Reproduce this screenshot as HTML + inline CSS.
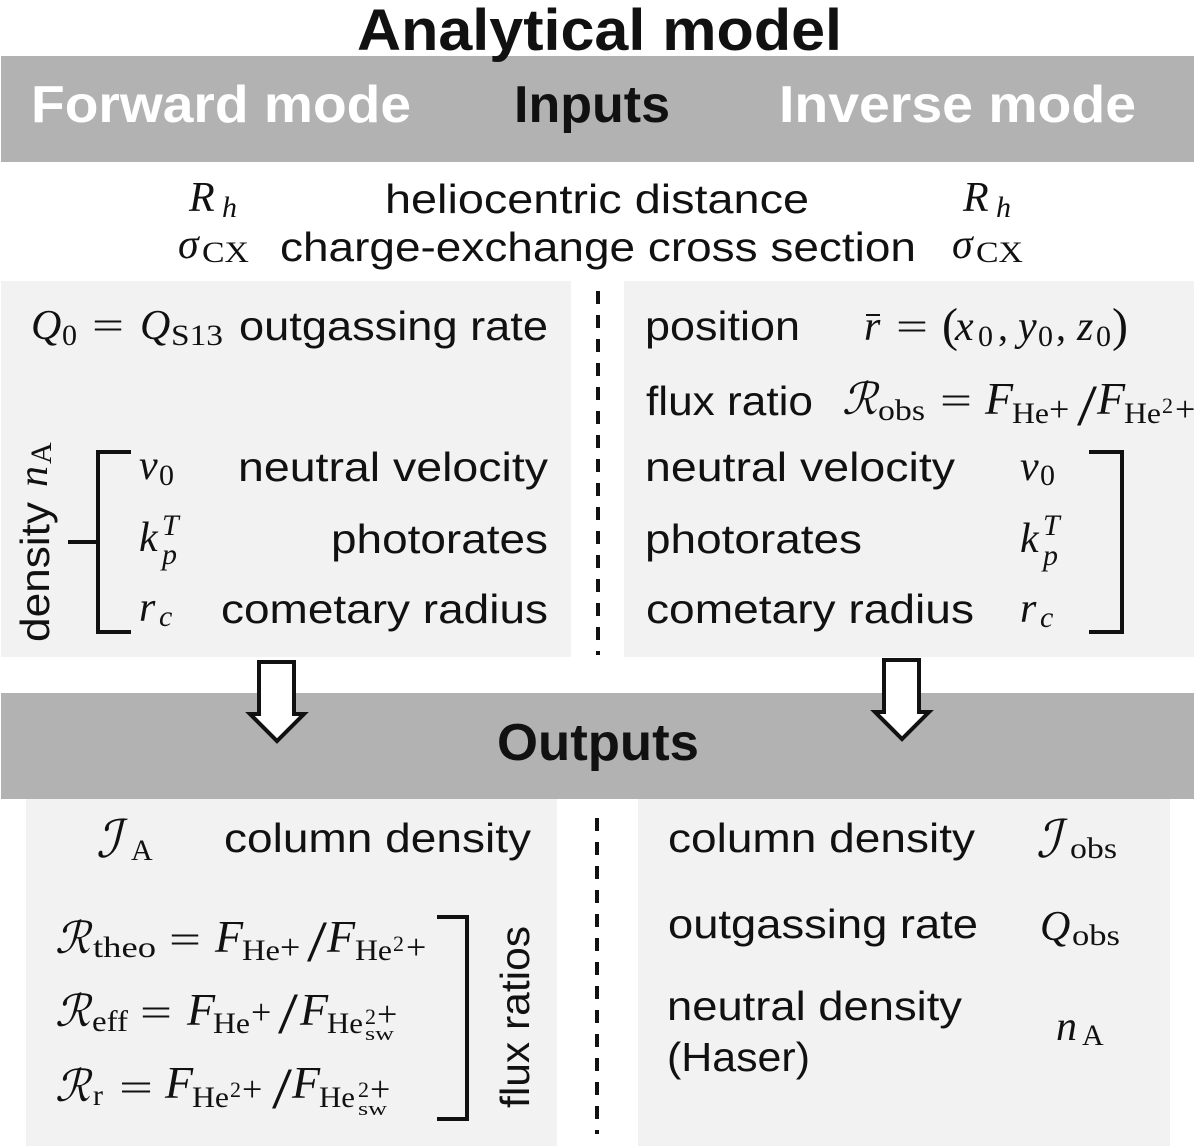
<!DOCTYPE html>
<html><head><meta charset="utf-8"><style>
html,body{margin:0;padding:0;background:#fff}
svg{display:block}
text{font-family:"Liberation Sans",sans-serif;fill:#111;white-space:pre}
.s{font-size:41px}
.m{font-family:"Liberation Serif",serif;font-style:italic;font-size:42px}
.f{font-family:"Liberation Serif",serif;font-style:italic;font-size:46px}
.c{font-family:"Liberation Serif",serif;font-style:italic;font-size:44px}
.i{font-family:"Liberation Serif",serif;font-style:italic;font-size:52px}
.r{font-family:"Liberation Serif",serif;font-size:40px}
.sub{font-family:"Liberation Serif",serif;font-size:30px}
.it{font-style:italic}
.p{font-family:"Liberation Serif",serif;font-size:36px}
.n{font-family:"Liberation Serif",serif;font-size:22px}
.w{font-family:"Liberation Serif",serif;font-size:19px}
.sl{font-family:"Liberation Serif",serif;font-size:58px}
.par{font-family:"Liberation Serif",serif;font-size:48px}
.h{font-size:52px;font-weight:bold}
</style></head><body>
<svg width="1200" height="1148" viewBox="0 0 1200 1148" xmlns="http://www.w3.org/2000/svg">
<rect width="1200" height="1148" fill="#fff"/>
<rect x="1" y="56" width="1193" height="106" fill="#b2b2b2"/>
<rect x="1" y="281" width="570" height="376" fill="#f2f2f2"/>
<rect x="624" y="281" width="570" height="376" fill="#f2f2f2"/>
<rect x="1" y="693" width="1193" height="106" fill="#b2b2b2"/>
<rect x="26" y="799" width="531" height="347" fill="#f2f2f2"/>
<rect x="638" y="799" width="532" height="347" fill="#f2f2f2"/>

<text x="357" y="50" textLength="485" lengthAdjust="spacingAndGlyphs" style="font-size:58px;font-weight:bold">Analytical model</text>
<text class="h" x="31" y="122" textLength="380" lengthAdjust="spacingAndGlyphs" style="fill:#fff">Forward mode</text>
<text class="h" x="514" y="122" textLength="156" lengthAdjust="spacingAndGlyphs">Inputs</text>
<text class="h" x="779" y="122" textLength="357" lengthAdjust="spacingAndGlyphs" style="fill:#fff">Inverse mode</text>
<text class="h" x="497" y="760" textLength="202" lengthAdjust="spacingAndGlyphs">Outputs</text>

<!-- inputs shared -->
<text class="m" x="189" y="211">R</text><text class="sub it" x="222" y="217">h</text>
<text class="s" x="385" y="213" textLength="424" lengthAdjust="spacingAndGlyphs">heliocentric distance</text>
<text class="m" x="963" y="211">R</text><text class="sub it" x="996" y="217">h</text>
<text class="m" x="178" y="258">σ</text><text class="sub" x="202" y="262" textLength="47" lengthAdjust="spacingAndGlyphs">CX</text>
<text class="s" x="280" y="261" textLength="636" lengthAdjust="spacingAndGlyphs">charge-exchange cross section</text>
<text class="m" x="952" y="258">σ</text><text class="sub" x="976" y="262" textLength="47" lengthAdjust="spacingAndGlyphs">CX</text>

<!-- forward inputs -->
<text class="m" x="31" y="339">Q</text><text class="sub" x="62" y="345">0</text>
<text class="r" x="92" y="339" textLength="32" lengthAdjust="spacingAndGlyphs">=</text>
<text class="m" x="140" y="339">Q</text><text class="sub" x="171" y="345" textLength="52" lengthAdjust="spacingAndGlyphs">S13</text>
<text class="s" x="239" y="340" textLength="309" lengthAdjust="spacingAndGlyphs">outgassing rate</text>

<text class="m" x="139" y="479">v</text><text class="sub" x="159" y="485">0</text>
<text class="s" x="238" y="481" textLength="310" lengthAdjust="spacingAndGlyphs">neutral velocity</text>
<text class="m" x="139" y="551">k</text><text class="sub it" x="162" y="535">T</text><text class="sub it" x="162" y="564">p</text>
<text class="s" x="331" y="553" textLength="217" lengthAdjust="spacingAndGlyphs">photorates</text>
<text class="m" x="139" y="621">r</text><text class="sub it" x="159" y="626">c</text>
<text class="s" x="221" y="623" textLength="327" lengthAdjust="spacingAndGlyphs">cometary radius</text>

<text class="s" transform="translate(49,642) rotate(-90)" x="0" y="0" textLength="140" lengthAdjust="spacingAndGlyphs">density</text>
<text class="m" transform="translate(47,487) rotate(-90)" x="0" y="0">n</text>
<text class="sub" transform="translate(51,464) rotate(-90)" x="0" y="0">A</text>

<path d="M131 452H98V632H131" fill="none" stroke="#111" stroke-width="4"/>
<path d="M68 542H98" fill="none" stroke="#111" stroke-width="4"/>

<!-- inverse inputs -->
<text class="s" x="645" y="340" textLength="155" lengthAdjust="spacingAndGlyphs">position</text>
<text class="m" x="864" y="340">r</text><path d="M866 315h14" stroke="#111" stroke-width="2"/>
<text class="r" x="896" y="340" textLength="32" lengthAdjust="spacingAndGlyphs">=</text>
<text class="par" x="942" y="341">(</text><text class="m" x="955" y="340">x</text><text class="sub" x="978" y="346">0</text>
<text class="r" x="998" y="340">,</text>
<text class="m" x="1018" y="340">y</text><text class="sub" x="1038" y="346">0</text><text class="r" x="1056" y="340">,</text>
<text class="m" x="1077" y="340">z</text><text class="sub" x="1096" y="346">0</text><text class="par" x="1112" y="341">)</text>

<text class="s" x="646" y="415" textLength="167" lengthAdjust="spacingAndGlyphs">flux ratio</text>
<text class="c" x="842" y="414">ℛ</text><text class="sub" x="878" y="420" textLength="47" lengthAdjust="spacingAndGlyphs">obs</text>
<text class="r" x="940" y="414" textLength="32" lengthAdjust="spacingAndGlyphs">=</text>
<text class="f" x="985" y="414">F</text><text class="sub" x="1012" y="423" textLength="37" lengthAdjust="spacingAndGlyphs">He</text><text class="p" x="1049" y="421">+</text>
<text class="sl" x="1077" y="425" textLength="20" lengthAdjust="spacingAndGlyphs">/</text>
<text class="f" x="1097" y="414">F</text><text class="sub" x="1124" y="423" textLength="37" lengthAdjust="spacingAndGlyphs">He</text><text class="n" x="1162" y="413">2</text><text class="p" x="1175" y="421">+</text>

<text class="s" x="645" y="481" textLength="310" lengthAdjust="spacingAndGlyphs">neutral velocity</text>
<text class="m" x="1020" y="480">v</text><text class="sub" x="1040" y="485">0</text>
<text class="s" x="645" y="553" textLength="217" lengthAdjust="spacingAndGlyphs">photorates</text>
<text class="m" x="1020" y="552">k</text><text class="sub it" x="1043" y="535">T</text><text class="sub it" x="1043" y="565">p</text>
<text class="s" x="646" y="623" textLength="328" lengthAdjust="spacingAndGlyphs">cometary radius</text>
<text class="m" x="1020" y="622">r</text><text class="sub it" x="1040" y="627">c</text>
<path d="M1089 452H1122V632H1089" fill="none" stroke="#111" stroke-width="4"/>

<!-- dashed -->
<path d="M598 291V655" stroke="#111" stroke-width="4" stroke-dasharray="13 11" fill="none"/>
<path d="M597 818V1134" stroke="#111" stroke-width="4" stroke-dasharray="13 11" fill="none"/>

<!-- arrows -->
<path d="M259 662H294V714H304L277 741L250 714H259Z" fill="#fff" stroke="#111" stroke-width="4"/>
<path d="M884 660H919V712H929L902 739L875 712H884Z" fill="#fff" stroke="#111" stroke-width="4"/>

<!-- outputs forward -->
<text class="i" x="96" y="857">ℐ</text><text class="sub" x="131" y="860">A</text>
<text class="s" x="224" y="852" textLength="307" lengthAdjust="spacingAndGlyphs">column density</text>

<text class="c" x="55" y="953">ℛ</text><text class="sub" x="93" y="957" textLength="63" lengthAdjust="spacingAndGlyphs">theo</text>
<text class="r" x="169" y="953" textLength="32" lengthAdjust="spacingAndGlyphs">=</text>
<text class="f" x="215" y="952">F</text><text class="sub" x="242" y="960" textLength="38" lengthAdjust="spacingAndGlyphs">He</text><text class="p" x="280" y="959">+</text>
<text class="sl" x="307" y="961" textLength="20" lengthAdjust="spacingAndGlyphs">/</text>
<text class="f" x="327" y="952">F</text><text class="sub" x="355" y="960" textLength="37" lengthAdjust="spacingAndGlyphs">He</text><text class="n" x="393" y="951">2</text><text class="p" x="406" y="959">+</text>

<text class="c" x="55" y="1026">ℛ</text><text class="sub" x="92" y="1031" textLength="36" lengthAdjust="spacingAndGlyphs">eff</text>
<text class="r" x="140" y="1026" textLength="32" lengthAdjust="spacingAndGlyphs">=</text>
<text class="f" x="187" y="1025">F</text><text class="sub" x="213" y="1033" textLength="37" lengthAdjust="spacingAndGlyphs">He</text><text class="p" x="251" y="1024">+</text>
<text class="sl" x="278" y="1033" textLength="20" lengthAdjust="spacingAndGlyphs">/</text>
<text class="f" x="300" y="1025">F</text><text class="sub" x="327" y="1033" textLength="36" lengthAdjust="spacingAndGlyphs">He</text><text class="n" x="365" y="1024">2</text><text class="p" x="377" y="1026">+</text><text class="w" x="365" y="1040" textLength="29" lengthAdjust="spacingAndGlyphs">sw</text>

<text class="c" x="55" y="1101">ℛ</text><text class="sub" x="93" y="1105">r</text>
<text class="r" x="119" y="1101" textLength="34" lengthAdjust="spacingAndGlyphs">=</text>
<text class="f" x="165" y="1098">F</text><text class="sub" x="192" y="1107" textLength="37" lengthAdjust="spacingAndGlyphs">He</text><text class="n" x="230" y="1097">2</text><text class="p" x="242" y="1101">+</text>
<text class="sl" x="272" y="1108" textLength="20" lengthAdjust="spacingAndGlyphs">/</text>
<text class="f" x="292" y="1098">F</text><text class="sub" x="319" y="1107" textLength="36" lengthAdjust="spacingAndGlyphs">He</text><text class="n" x="358" y="1097">2</text><text class="p" x="370" y="1101">+</text><text class="w" x="358" y="1115" textLength="29" lengthAdjust="spacingAndGlyphs">sw</text>

<path d="M437 917H467V1119H437" fill="none" stroke="#111" stroke-width="4"/>
<text class="s" transform="translate(529,1108) rotate(-90)" x="0" y="0" textLength="182" lengthAdjust="spacingAndGlyphs">flux ratios</text>

<!-- outputs inverse -->
<text class="s" x="668" y="852" textLength="307" lengthAdjust="spacingAndGlyphs">column density</text>
<text class="i" x="1036" y="857">ℐ</text><text class="sub" x="1070" y="858" textLength="47" lengthAdjust="spacingAndGlyphs">obs</text>
<text class="s" x="668" y="938" textLength="310" lengthAdjust="spacingAndGlyphs">outgassing rate</text>
<text class="m" x="1040" y="940">Q</text><text class="sub" x="1072" y="945" textLength="48" lengthAdjust="spacingAndGlyphs">obs</text>
<text class="s" x="667" y="1020" textLength="295" lengthAdjust="spacingAndGlyphs">neutral density</text>
<text class="s" x="667" y="1071" textLength="143" lengthAdjust="spacingAndGlyphs">(Haser)</text>
<text class="m" x="1056" y="1040">n</text><text class="sub" x="1082" y="1045">A</text>
</svg>
</body></html>
